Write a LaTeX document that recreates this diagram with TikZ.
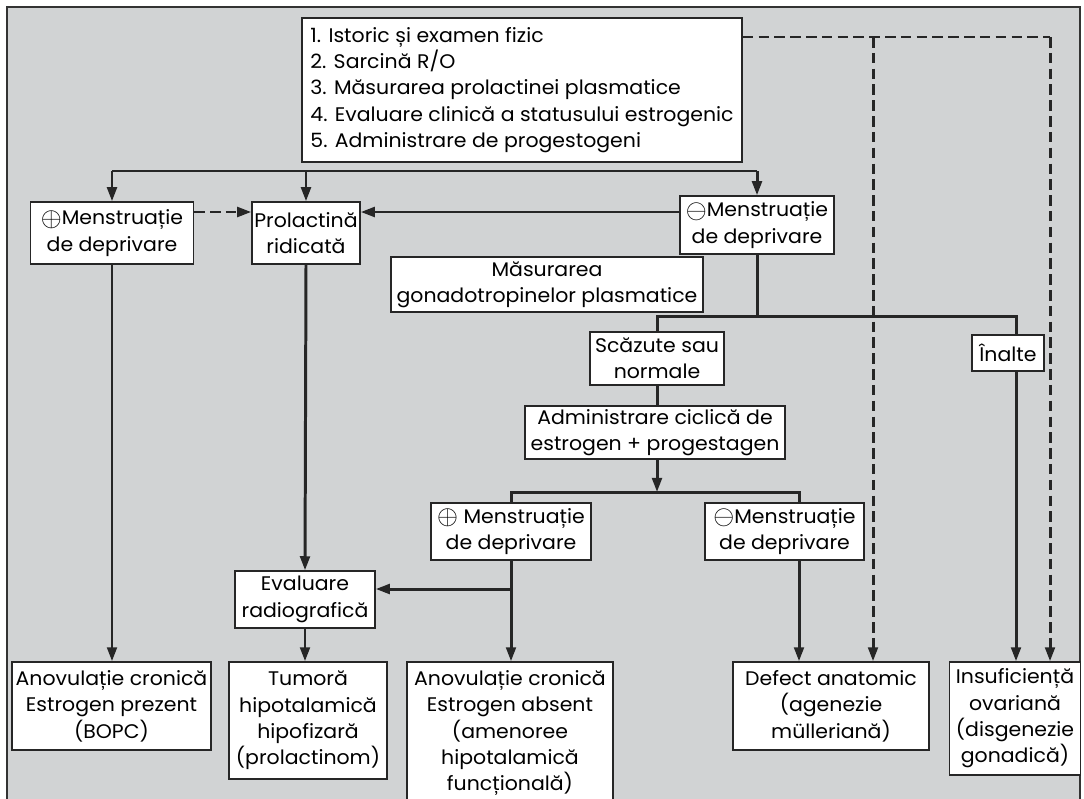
\documentclass[tikz,border=0pt]{standalone}
\usepackage{fontspec}
\setmainfont{Poppins}[FakeStretch=1.04]
\usetikzlibrary{arrows.meta, positioning}
\definecolor{panel}{HTML}{D1D3D4}
\newcommand{\plusmark}{\raisebox{-0.15ex}{\scalebox{1.4}{$\oplus$}}}
\newcommand{\minusmark}{\raisebox{-0.15ex}{\scalebox{1.4}{$\ominus$}}}

\begin{document}
\begin{tikzpicture}[x=0.02cm, y=-0.02cm,
    font=\fontsize{11.2pt}{15pt}\selectfont,
    box/.style={rectangle, draw=black!85, line width=0.8pt, fill=white, align=center, inner sep=1pt},
    boxsize/.style 2 args={minimum width=#1*0.02cm, minimum height=#2*0.02cm},
    link/.style={draw=black!85, line width=1.7pt},
    arrow/.style={link, -{Triangle[length=8pt, width=5.5pt]}},
    dashlink/.style={link, dash pattern=on 6pt off 3pt},
    dasharrow/.style={dashlink, -{Triangle[length=8pt, width=5.5pt]}}
]
% Frame
\useasboundingbox (0,0) rectangle (1084,798);
\draw[fill=panel, draw=black!80, line width=0.9pt] (7,7) rectangle (1080,830);

% Initial evaluation
\node[box, boxsize={440}{144}, align=left] (tests) at (522,90) {1. Istoric și examen fizic\\ 2. Sarcină R/O\\ 3. Măsurarea prolactinei plasmatice\\ 4. Evaluare clinică a statusului estrogenic\\ 5. Administrare de progestogeni};

% Progestin challenge
\node[box, boxsize={163}{62}] (plusw) at (112,233) {\plusmark Menstruație\\ de deprivare};
\node[box, boxsize={108}{62}] (prl) at (306,233) {Prolactină\\ ridicată};
\node[box, boxsize={154}{58}] (minusw) at (757,225) {\minusmark Menstruație\\ de deprivare};

% Gonadotropins
\node[box, boxsize={312}{55}] (gonad) at (547,284.5) {Măsurarea\\ gonadotropinelor plasmatice};
\node[box, boxsize={134}{53}] (low) at (657,358.5) {Scăzute sau\\ normale};
\node[box, boxsize={72}{36}] (high) at (1008,353) {Înalte};
\node[box, boxsize={260}{53}] (cyclic) at (655,432.5) {Administrare ciclică de\\ estrogen + progestagen};

% Estrogen + progestagen challenge
\node[box, boxsize={160}{57}] (plusc) at (511,531.5) {\plusmark\ Menstruație\\ de deprivare};
\node[box, boxsize={159}{57}] (minusc) at (784.5,531.5) {\minusmark Menstruație\\ de deprivare};
\node[box, boxsize={140}{57}] (radio) at (305,599.5) {Evaluare\\ radiografică};

% Diagnoses
\node[box, boxsize={199}{88}] (bopc) at (111.5,706) {Anovulație cronică\\ Estrogen prezent\\ (BOPC)};
\node[box, boxsize={158}{117}] (tumor) at (308,720.5) {Tumoră\\ hipotalamică\\ hipofizară\\ (prolactinom)};
\node[box, boxsize={206}{142}] (hypo) at (510,733) {Anovulație cronică\\ Estrogen absent\\ (amenoree\\ hipotalamică\\ funcțională)};
\node[box, boxsize={196}{88}] (anat) at (831,706) {Defect anatomic\\ (agenezie\\ mülleriană)};
\node[box, boxsize={131}{113}] (ovar) at (1015,718.5) {Insuficiență\\ ovariană\\ (disgenezie\\ gonadică)};

% Bus points
\coordinate (bus1L) at (112,171);
\coordinate (bus1R) at (757,171);
\coordinate (dashM) at (873,37);
\coordinate (dashR) at (1050,37);
\coordinate (hlev) at (0,212);
\coordinate (bus2M) at (757,316);
\coordinate (bus2R) at (1016,316);
\coordinate (bus3M) at (657,492);
\coordinate (bus3R) at (799,492);
\coordinate (split) at (511,589);

% Arrows
\draw[link] (bus1L) -- (bus1R);
\draw[arrow] (bus1L) -- (plusw.north);
\draw[arrow] (prl.north |- bus1L) -- (prl.north);
\draw[arrow] (bus1R) -- (minusw.north);
\draw[dasharrow] (plusw.east |- hlev) -- (prl.west |- hlev);
\draw[arrow] (minusw.west |- hlev) -- (prl.east |- hlev);

\draw[dashlink] (tests.east |- dashM) -- (dashR);
\draw[dasharrow] (dashM) -- (dashM |- anat.north);
\draw[dasharrow] (dashR) -- (dashR |- ovar.north);

\draw[link] (minusw.south) -- (bus2M);
\draw[link] (low.north) |- (bus2R) -- (high.north -| bus2R);
\draw[arrow] (high.south -| bus2R) -- (bus2R |- ovar.north);
\draw[link] (low.south) -- (cyclic.north -| low.south);
\draw[arrow] (cyclic.south -| bus3M) -- (bus3M);
\draw[link] (plusc.north) |- (bus3R) -- (bus3R |- minusc.north);
\draw[arrow] (plusc.south) -- (hypo.north -| plusc.south);
\draw[arrow] (split) -- (radio.east |- split);
\draw[arrow] (minusc.south -| bus3R) -- (bus3R |- anat.north);

\draw[arrow] (plusw.south) -- (bopc.north -| plusw.south);
\draw[arrow] (prl.south) -- (radio.north);
\draw[arrow] (radio.south) -- (tumor.north -| radio.south);
\end{tikzpicture}
\end{document}
